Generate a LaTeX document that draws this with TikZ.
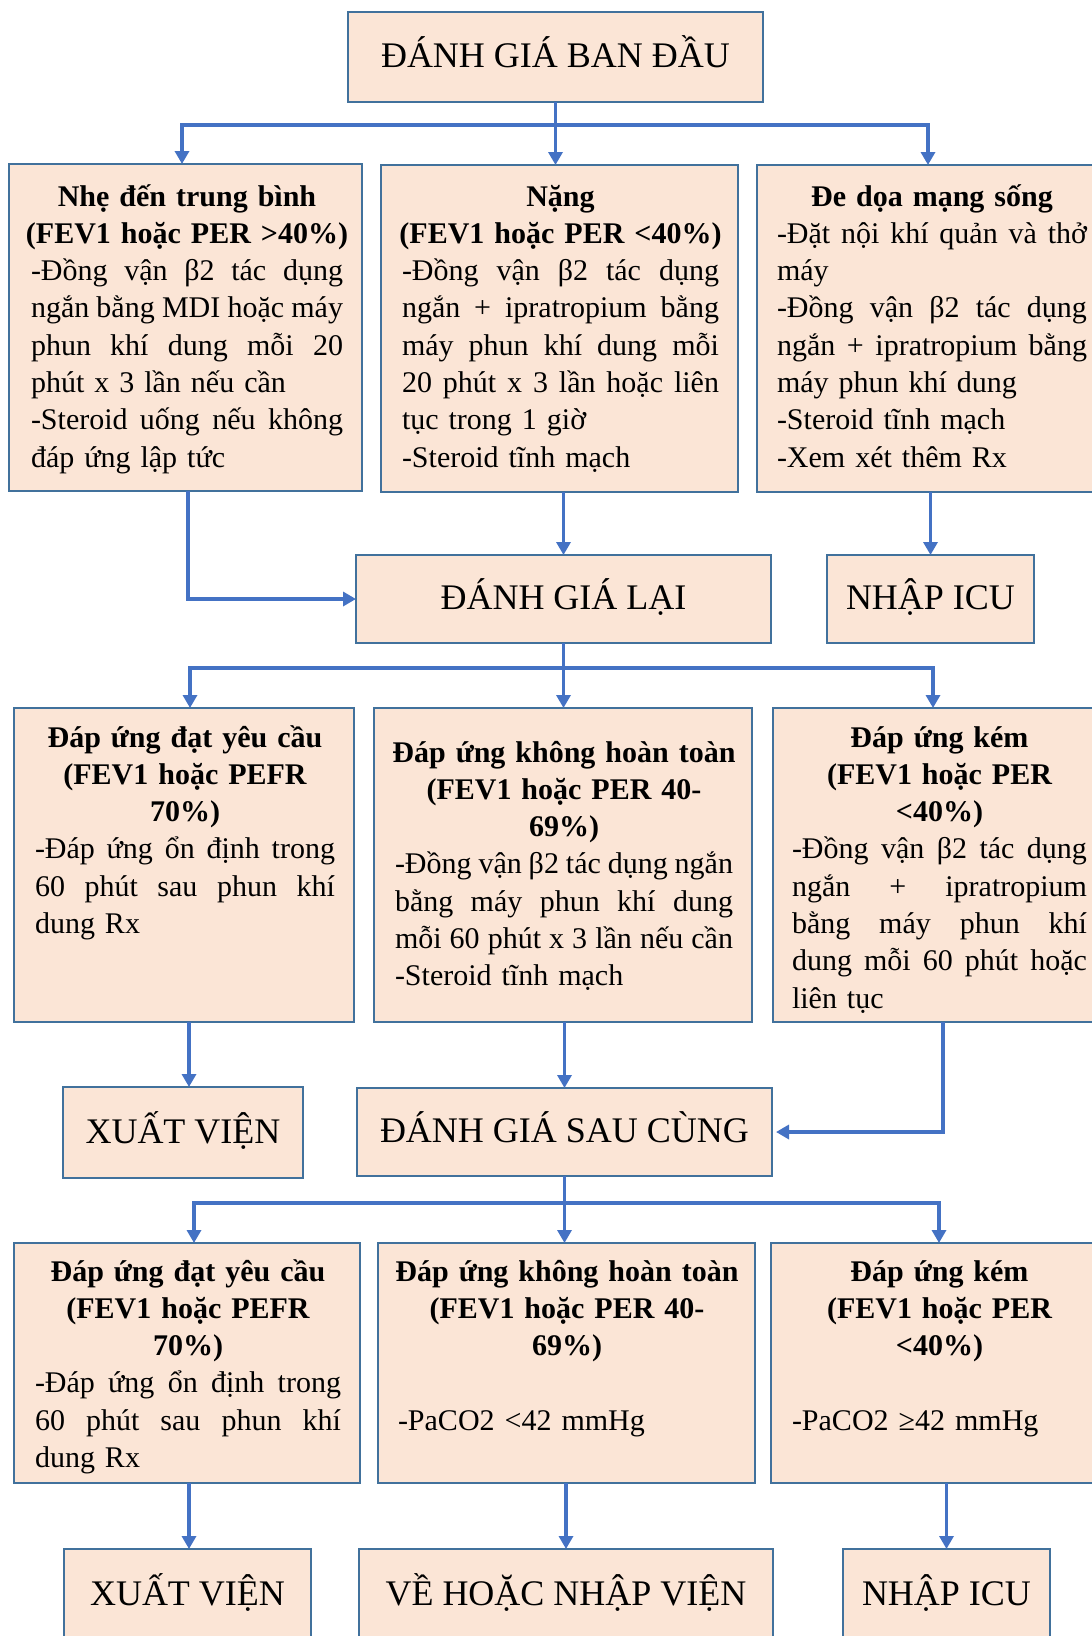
\documentclass[tikz,border=0pt]{standalone}
\usepackage{fontspec}
\setmainfont{Liberation Serif}
\usetikzlibrary{arrows.meta}

\definecolor{cardfill}{RGB}{251,229,214}
\definecolor{cardedge}{RGB}{65,113,156}
\definecolor{flow}{RGB}{68,114,196}

\setlength\parindent{0pt}
\setlength\parskip{0pt}

% one typeset line of a card: justified, flush left, or bold centred
\newcommand\lnJ[1]{\makebox[\linewidth][s]{%
  \spaceskip=0.25em plus 1fil minus 0.12em\relax
  \xspaceskip=\spaceskip #1}\par}
\newcommand\lnL[1]{\makebox[\linewidth][l]{#1}\par}
\newcommand\lnC[1]{\makebox[\linewidth][c]{\bfseries #1}\par}

\tikzset{
  card/.style={draw=cardedge, fill=cardfill, line width=2pt, rectangle,
    inner sep=0pt, outer sep=0pt, anchor=north west},
  bigcard/.style={card, font=\fontsize{36}{40}\selectfont,
    text height=21pt, text depth=0pt},
  body/.style={anchor=north west, inner sep=0pt, outer sep=0pt,
    font=\fontsize{30}{37.3}\selectfont,
    execute at begin node={\rule{0pt}{33pt}}},
  link/.style={draw=flow, line width=3.5pt},
  flowarrow/.style={link, -{Triangle[length=13pt,width=14pt]}},
}

\begin{document}
\begin{tikzpicture}[x=1pt, y=-1pt]
\useasboundingbox (0,0) rectangle (1092,1636);
\clip (0,0) rectangle (1092,1636);
\fill[white] (0,0) rectangle (1092,1636);

% ---------- first assessment ----------
\node[bigcard, minimum width=415pt, minimum height=90pt] (top) at (348,12) {ĐÁNH GIÁ BAN ĐẦU};

% ---------- severity row ----------
\node[card, minimum width=353pt, minimum height=327pt] (a1) at (9,164) {};
\node[body, text width=312pt] (a1t) at (31,173) {%
\lnC{Nhẹ đến trung bình}
\lnC{(FEV1 hoặc PER >40\%)}
\lnJ{-Đồng vận β2 tác dụng}
\lnJ{ngắn bằng MDI hoặc máy}
\lnJ{phun khí dung mỗi 20}
\lnL{phút x 3 lần nếu cần}
\lnJ{-Steroid uống nếu không}
\lnL{đáp ứng lập tức}};

\node[card, minimum width=357pt, minimum height=327pt] (b1) at (381,165) {};
\node[body, text width=317pt] (b1t) at (402,173) {%
\lnC{Nặng}
\lnC{(FEV1 hoặc PER <40\%)}
\lnJ{-Đồng vận β2 tác dụng}
\lnJ{ngắn + ipratropium bằng}
\lnJ{máy phun khí dung mỗi}
\lnJ{20 phút x 3 lần hoặc liên}
\lnL{tục trong 1 giờ}
\lnL{-Steroid tĩnh mạch}};

\node[card, minimum width=346pt, minimum height=327pt] (c1) at (757,165) {};
\node[body, text width=310pt] (c1t) at (777,173) {%
\lnC{Đe dọa mạng sống}
\lnJ{-Đặt nội khí quản và thở}
\lnL{máy}
\lnJ{-Đồng vận β2 tác dụng}
\lnJ{ngắn + ipratropium bằng}
\lnL{máy phun khí dung}
\lnL{-Steroid tĩnh mạch}
\lnL{-Xem xét thêm Rx}};

% ---------- reassessment ----------
\node[bigcard, minimum width=415pt, minimum height=88pt] (dgl) at (356,555) {ĐÁNH GIÁ LẠI};
\node[bigcard, minimum width=207pt, minimum height=88pt] (icu1) at (827,555) {NHẬP ICU};

% ---------- response row ----------
\node[card, minimum width=340pt, minimum height=314pt] (a2) at (14,708) {};
\node[body, text width=300pt] (a2t) at (35,714) {%
\lnC{Đáp ứng đạt yêu cầu}
\lnC{(FEV1 hoặc PEFR}
\lnC{70\%)}
\lnJ{-Đáp ứng ổn định trong}
\lnJ{60 phút sau phun khí}
\lnL{dung Rx}};

\node[card, minimum width=378pt, minimum height=314pt] (b2) at (374,708) {};
\node[body, text width=338pt] (b2t) at (395,729) {%
\lnC{Đáp ứng không hoàn toàn}
\lnC{(FEV1 hoặc PER 40-}
\lnC{69\%)}
\lnJ{-Đồng vận β2 tác dụng ngắn}
\lnJ{bằng máy phun khí dung}
\lnJ{mỗi 60 phút x 3 lần nếu cần}
\lnL{-Steroid tĩnh mạch}};

\node[card, minimum width=334pt, minimum height=314pt] (c2) at (773,708) {};
\node[body, text width=295pt] (c2t) at (792,714) {%
\lnC{Đáp ứng kém}
\lnC{(FEV1 hoặc PER}
\lnC{<40\%)}
\lnJ{-Đồng vận β2 tác dụng}
\lnJ{ngắn + ipratropium}
\lnJ{bằng máy phun khí}
\lnJ{dung mỗi 60 phút hoặc}
\lnL{liên tục}};

% ---------- discharge / final assessment ----------
\node[bigcard, minimum width=240pt, minimum height=91pt] (xv1) at (63,1087) {XUẤT VIỆN};
\node[bigcard, minimum width=415pt, minimum height=88pt] (dgsc) at (357,1088) {ĐÁNH GIÁ SAU CÙNG};

% ---------- final response row ----------
\node[card, minimum width=346pt, minimum height=240pt] (a3) at (14,1243) {};
\node[body, text width=306pt] (a3t) at (35,1248) {%
\lnC{Đáp ứng đạt yêu cầu}
\lnC{(FEV1 hoặc PEFR}
\lnC{70\%)}
\lnJ{-Đáp ứng ổn định trong}
\lnJ{60 phút sau phun khí}
\lnL{dung Rx}};

\node[card, minimum width=377pt, minimum height=240pt] (b3) at (378,1243) {};
\node[body, text width=338pt] (b3t) at (398,1248) {%
\lnC{Đáp ứng không hoàn toàn}
\lnC{(FEV1 hoặc PER 40-}
\lnC{69\%)}
\lnL{}
\lnL{-PaCO2 <42 mmHg}};

\node[card, minimum width=342pt, minimum height=240pt] (c3) at (771,1243) {};
\node[body, text width=295pt] (c3t) at (792,1248) {%
\lnC{Đáp ứng kém}
\lnC{(FEV1 hoặc PER}
\lnC{<40\%)}
\lnL{}
\lnL{-PaCO2 ≥42 mmHg}};

% ---------- outcomes ----------
\node[bigcard, minimum width=247pt, minimum height=91pt] (xv2) at (64,1549) {XUẤT VIỆN};
\node[bigcard, minimum width=414pt, minimum height=91pt] (vh) at (359,1549) {VỀ HOẶC NHẬP VIỆN};
\node[bigcard, minimum width=207pt, minimum height=91pt] (icu2) at (843,1549) {NHẬP ICU};

% ---------- connectors ----------
\coordinate (j1) at (555.5,125);
\draw[link] (top.south) -- (j1);
\draw[flowarrow] (j1) -| ([xshift=-3.5pt]a1.north);
\draw[flowarrow] (j1) -- (j1 |- b1.north);
\draw[flowarrow] (j1) -| ([xshift=-2pt]c1.north);

\draw[flowarrow] ([xshift=2.5pt]a1.south) |- (dgl.west);
\draw[flowarrow] (dgl.north |- b1.south) -- (dgl.north);
\draw[flowarrow] (icu1.north |- c1.south) -- (icu1.north);

\coordinate (j2) at (563.5,668);
\draw[link] (dgl.south) -- (j2);
\draw[flowarrow] (j2) -| ([xshift=6pt]a2.north);
\draw[flowarrow] (j2) -- (j2 |- b2.north);
\draw[flowarrow] (j2) -| ([xshift=-7pt]c2.north);

\draw[flowarrow] ([xshift=6pt]xv1.north |- a2.south) -- ([xshift=6pt]xv1.north);
\draw[flowarrow] (dgsc.north |- b2.south) -- (dgsc.north);
\draw[flowarrow, shorten >=4pt] ([xshift=3pt]c2.south) |- (dgsc.east);

\coordinate (j3) at (564.5,1203);
\draw[link] (dgsc.south) -- (j3);
\draw[flowarrow] (j3) -| ([xshift=7pt]a3.north);
\draw[flowarrow] (j3) -- (j3 |- b3.north);
\draw[flowarrow] (j3) -| ([xshift=-3pt]c3.north);

\draw[flowarrow] ([xshift=1.5pt]xv2.north |- a3.south) -- ([xshift=1.5pt]xv2.north);
\draw[flowarrow] (vh.north |- b3.south) -- (vh.north);
\draw[flowarrow] (icu2.north |- c3.south) -- (icu2.north);
\end{tikzpicture}
\end{document}
